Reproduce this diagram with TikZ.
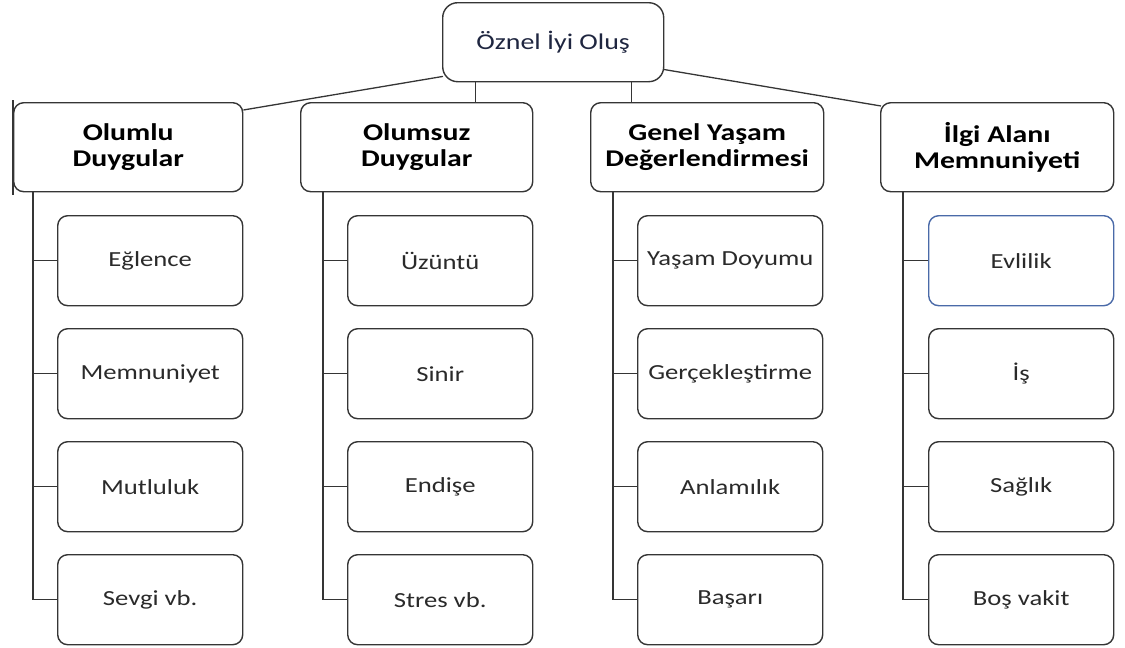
\documentclass[tikz,border=0pt]{standalone}
\usepackage{fontspec}
\setmainfont{Carlito}[FakeStretch=1.24]
\usetikzlibrary{calc}
\definecolor{edge}{HTML}{353535}
\definecolor{leaftext}{HTML}{2A2A2A}
\definecolor{topblue}{HTML}{1F2640}
\definecolor{evblue}{HTML}{4A6AA8}
\tikzset{
  box/.style={draw=edge, line width=1.4pt, fill=white, rounded corners=10pt, anchor=north west, inner sep=0pt, align=center},
  topbox/.style={box, rounded corners=15pt, minimum width=221pt, minimum height=79pt, text=topblue, font=\fontsize{22.5}{27}\selectfont},
  catbox/.style={box, minimum height=89pt, font=\fontsize{24}{26.5}\selectfont\bfseries},
  leafbox/.style={box, minimum width=185pt, minimum height=90pt, text=leaftext, font=\fontsize{21.5}{25}\selectfont},
  link/.style={draw=edge, line width=1.3pt}
}
\begin{document}
\begin{tikzpicture}[x=1pt,y=-1pt]
\useasboundingbox (0,0) rectangle (1125,648);
% root
\node[topbox] (top) at (442,2) {Öznel İyi Oluş};
% categories
\node[catbox, minimum width=229pt] (c1) at (13,102) {Olumlu\\Duygular};
\node[catbox, minimum width=232pt] (c2) at (300,102) {Olumsuz\\Duygular};
\node[catbox, minimum width=233pt] (c3) at (590,102) {Genel Yaşam\\Değerlendirmesi};
\node[catbox, minimum width=233pt] (c4) at (880,102) {İlgi Alanı\\Memnuniyeti};
% leaves column 1
\node[leafbox] (l11) at (57,215) {Eğlence};
\node[leafbox] (l12) at (57,328) {Memnuniyet};
\node[leafbox] (l13) at (57,441) {Mutluluk};
\node[leafbox] (l14) at (57,554) {Sevgi vb.};
% column 2
\node[leafbox] (l21) at (347,215) {Üzüntü};
\node[leafbox] (l22) at (347,328) {Sinir};
\node[leafbox] (l23) at (347,441) {Endişe};
\node[leafbox] (l24) at (347,554) {Stres vb.};
% column 3
\node[leafbox] (l31) at (637,215) {Yaşam Doyumu};
\node[leafbox] (l32) at (637,328) {Gerçekleştirme};
\node[leafbox] (l33) at (637,441) {Anlamılık};
\node[leafbox] (l34) at (637,554) {Başarı};
% column 4
\node[leafbox, draw=evblue] (l41) at (928,215) {Evlilik};
\node[leafbox] (l42) at (928,328) {İş};
\node[leafbox] (l43) at (928,441) {Sağlık};
\node[leafbox] (l44) at (928,554) {Boş vakit};
% left edge line of first category box
\draw[link] ([yshift=2pt]c1.north west) -- ([yshift=-3pt]c1.south west);
% root to categories
\draw[link] ($(top.south west)+(1,-6)$) -- ($(c1.north east)+(0,8)$);
\draw[link] ([xshift=-77.5pt]top.south) -- ([xshift=-77.5pt]top.south |- c2.north);
\draw[link] ([xshift=78.5pt]top.south) -- ([xshift=78.5pt]top.south |- c3.north);
\draw[link] ($(top.south east)+(-1,-13)$) -- ($(c4.north west)+(1,4)$);
% trunk coordinates
\coordinate (t1) at ([xshift=20pt]c1.south west);
\coordinate (t2) at ([xshift=23pt]c2.south west);
\coordinate (t3) at ([xshift=23pt]c3.south west);
\coordinate (t4) at ([xshift=23pt]c4.south west);
\foreach \c in {1,2,3,4}{
  \draw[link] (t\c) |- (l\c4.west);
  \foreach \r in {1,2,3}{
    \draw[link] (l\c\r.west) -- (l\c\r.west -| t\c);
  }
}
\end{tikzpicture}
\end{document}
